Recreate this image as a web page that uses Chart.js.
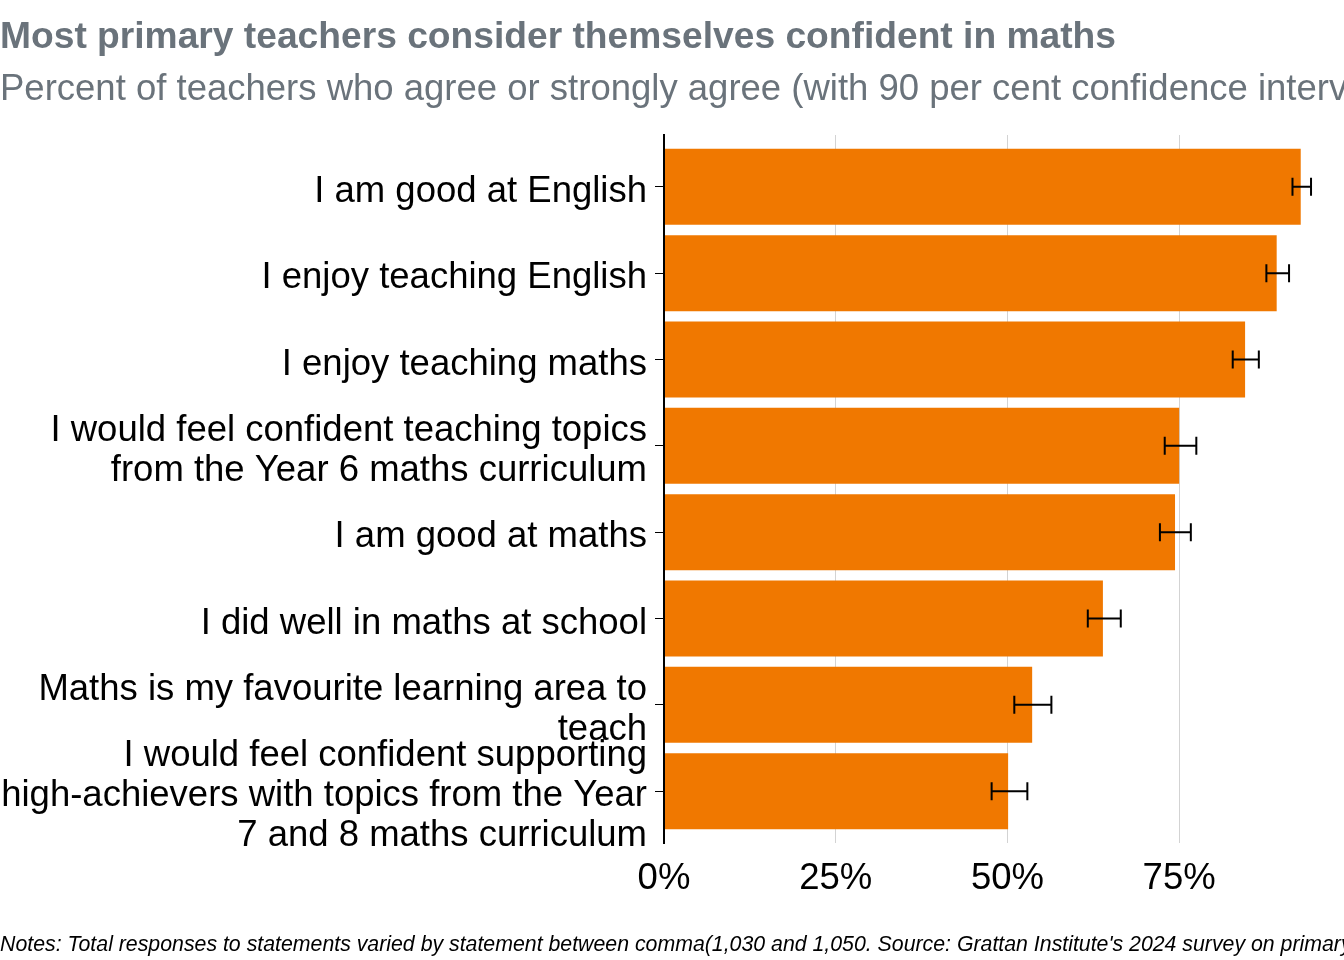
<!DOCTYPE html>
<html>
<head>
<meta charset="utf-8">
<script src="https://cdn.jsdelivr.net/npm/chart.js@4.4.1/dist/chart.umd.min.js"></script>
<style>
  html, body { margin: 0; padding: 0; background: #ffffff; }
  #wrap { width: 1344px; height: 960px; position: relative; overflow: hidden; }
</style>
</head>
<body>
<div id="wrap"><canvas id="chart" width="1344" height="960"></canvas></div>
<script>
// ---- Data ----
const titleText = 'Most primary teachers consider themselves confident in maths';
const subtitleText = 'Percent of teachers who agree or strongly agree (with 90 per cent confidence intervals)';
const notesText = "Notes: Total responses to statements varied by statement between comma(1,030 and 1,050. Source: Grattan Institute's 2024 survey on primary teachers.";

const categories = [
  ['I am good at English'],
  ['I enjoy teaching English'],
  ['I enjoy teaching maths'],
  ['I would feel confident teaching topics', 'from the Year 6 maths curriculum'],
  ['I am good at maths'],
  ['I did well in maths at school'],
  ['Maths is my favourite learning area to', 'teach'],
  ['I would feel confident supporting', 'high-achievers with topics from the Year', '7 and 8 maths curriculum']
];
const shareAgree = [0.927, 0.892, 0.846, 0.750, 0.744, 0.639, 0.536, 0.501];
const ciLower    = [0.915, 0.877, 0.828, 0.729, 0.722, 0.617, 0.510, 0.477];
const ciUpper    = [0.942, 0.910, 0.866, 0.775, 0.767, 0.665, 0.564, 0.529];
const xTickValues = [0, 0.25, 0.5, 0.75];

// ---- Styling ----
const FONT = 'Liberation Sans, Arial, Helvetica, sans-serif';
const GREY = '#6A737B';
const ORANGE = '#F07800';

const errorBarsPlugin = {
  id: 'errorBars',
  afterDatasetsDraw(chart) {
    const { ctx, scales: { x, y } } = chart;
    ctx.save();
    ctx.strokeStyle = '#000000';
    ctx.lineWidth = 2;
    ciLower.forEach((lo, i) => {
      const py = y.getPixelForValue(i + 1);
      const x1 = x.getPixelForValue(lo);
      const x2 = x.getPixelForValue(ciUpper[i]);
      const h = 9;
      ctx.beginPath();
      ctx.moveTo(x1, py); ctx.lineTo(x2, py);
      ctx.moveTo(x1, py - h); ctx.lineTo(x1, py + h);
      ctx.moveTo(x2, py - h); ctx.lineTo(x2, py + h);
      ctx.stroke();
    });
    ctx.restore();
  }
};

// Subtitle and notes are drawn at natural width (they run past the canvas edge, as in the original)
const textPlugin = {
  id: 'extraText',
  afterDraw(chart) {
    const ctx = chart.ctx;
    ctx.save();
    ctx.textAlign = 'left';
    ctx.textBaseline = 'middle';
    ctx.fillStyle = GREY;
    ctx.font = 'normal 36.5px ' + FONT;
    ctx.fillText(subtitleText, 0, 89.5);
    ctx.fillStyle = '#000000';
    ctx.font = 'italic 21.3px ' + FONT;
    ctx.fillText(notesText, 0, 945.5);
    ctx.restore();
  }
};

new Chart(document.getElementById('chart'), {
  type: 'bar',
  data: {
    datasets: [{
      data: shareAgree.map((v, i) => ({ x: v, y: i + 1 })),
      backgroundColor: ORANGE,
      borderWidth: 0,
      categoryPercentage: 1.0,
      barPercentage: 0.88
    }]
  },
  options: {
    indexAxis: 'y',
    responsive: false,
    animation: false,
    devicePixelRatio: 1,
    layout: { padding: { left: 0, right: 0, top: 0, bottom: 57 } },
    plugins: {
      legend: { display: false },
      tooltip: { enabled: false },
      title: {
        display: true, text: titleText, align: 'start', color: GREY,
        font: { family: FONT, size: 37.2, weight: 'bold', lineHeight: 1.2 },
        padding: { top: 15, bottom: 75.36 }
      },
      subtitle: { display: false }
    },
    scales: {
      x: {
        type: 'linear', position: 'bottom', min: 0, max: 0.99,
        afterBuildTicks: s => { s.ticks = xTickValues.map(v => ({ value: v })); },
        afterFit: s => { s.height = 60; s.paddingLeft = 0; s.paddingRight = 0; },
        grid: { color: '#D3D3D3', lineWidth: 1, drawTicks: false, drawOnChartArea: true },
        border: { display: false },
        ticks: {
          color: '#000000', padding: 14, autoSkip: false, maxRotation: 0,
          font: { family: FONT, size: 36.5, lineHeight: 1.2 },
          callback: v => Math.round(v * 100) + '%'
        }
      },
      y: {
        type: 'linear', position: 'left', min: 0.4, max: 8.6, reverse: true,
        offset: false,
        afterBuildTicks: s => { s.ticks = categories.map((c, i) => ({ value: i + 1 })); },
        afterFit: s => { s.width = 664; s.paddingTop = 0; s.paddingBottom = 0; },
        grid: { display: true, offset: false, drawOnChartArea: false, drawTicks: true, tickLength: 9, tickColor: '#000000', tickWidth: 1 },
        border: { display: true, color: '#000000', width: 2, z: 1 },
        ticks: {
          color: '#000000', padding: 8, autoSkip: false, labelOffset: 5,
          font: { family: FONT, size: 36.5, lineHeight: 1.1 },
          callback: v => categories[Math.round(v) - 1]
        }
      }
    }
  },
  plugins: [errorBarsPlugin, textPlugin]
});
</script>
</body>
</html>
